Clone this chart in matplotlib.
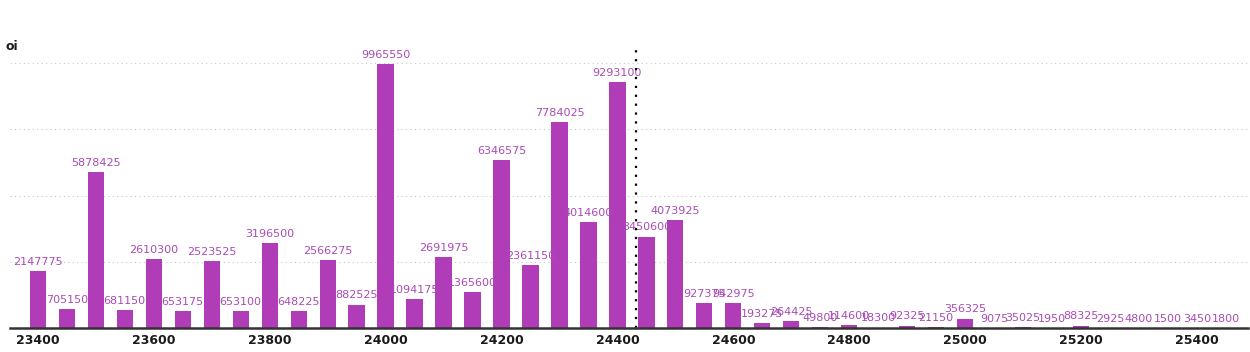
'''Open interest by strike, bar chart with value labels'''

import numpy as np
import matplotlib
matplotlib.use("Agg")
import matplotlib.pyplot as plt
import matplotlib.ticker as mticker

# strikes 23400 .. 25450, step 50
strikes = list(range(23400, 25500, 50))
oi = [
    2147775, 705150, 5878425, 681150, 2610300, 653175, 2523525, 653100,
    3196500, 648225, 2566275, 882525, 9965550, 1094175, 2691975, 1365600,
    6346575, 2361150, 7784025, 4014600, 9293100, 3450600, 4073925, 927375,
    942975, 193275, 264425, 49800, 114600, 18300, 92325, 21150,
    356325, 9075, 35025, 1950, 88325, 2925, 4800, 1500,
    3450, 1800,
]
spot = 24432
tick_strikes = [23400, 23600, 23800, 24000, 24200, 24400, 24600, 24800, 25000, 25200, 25400]
grid_levels = [2500000, 5000000, 7500000, 10000000]

BAR_COLOR = "#b03cb8"
LABEL_COLOR = "#a94bb5"

fig = plt.figure(figsize=(12.5, 3.52), dpi=100)
ax = fig.add_axes([10 / 1250, 24 / 352, 1238 / 1250, 278 / 352])

ax.bar(strikes, oi, width=28, color=BAR_COLOR, zorder=3)

for x, v in zip(strikes, oi):
    ax.annotate(str(v), (x, v), xytext=(0, 3), textcoords="offset points",
                ha="center", va="bottom", fontsize=8, color=LABEL_COLOR, zorder=4)

# dotted gridlines
for g in grid_levels:
    ax.axhline(g, color="#c8c8c8", linestyle=(0, (1, 3)), linewidth=0.8, zorder=1)

# spot marker
ax.axvline(spot, color="black", linestyle=(0, (1, 3)), linewidth=1.6, zorder=5)

ax.set_xlim(23352, 25488)
ax.set_ylim(0, 10.5e6)

for side in ["top", "right", "left"]:
    ax.spines[side].set_visible(False)
ax.spines["bottom"].set_color("#333333")
ax.spines["bottom"].set_linewidth(1.8)
ax.spines["bottom"].set_zorder(6)

ax.set_yticks([])
ax.xaxis.set_major_locator(mticker.FixedLocator(tick_strikes))
ax.tick_params(axis="x", length=0, pad=4)
for lbl in ax.get_xticklabels():
    lbl.set_fontweight("bold")
    lbl.set_fontsize(9)
    lbl.set_color("#1a1a1a")

fig.text(6 / 1250, 1 - 46 / 352, "oi", fontsize=9, fontweight="bold",
         color="#1a1a1a", ha="left", va="center")

plt.savefig("out.png", dpi=100)
plt.close()
